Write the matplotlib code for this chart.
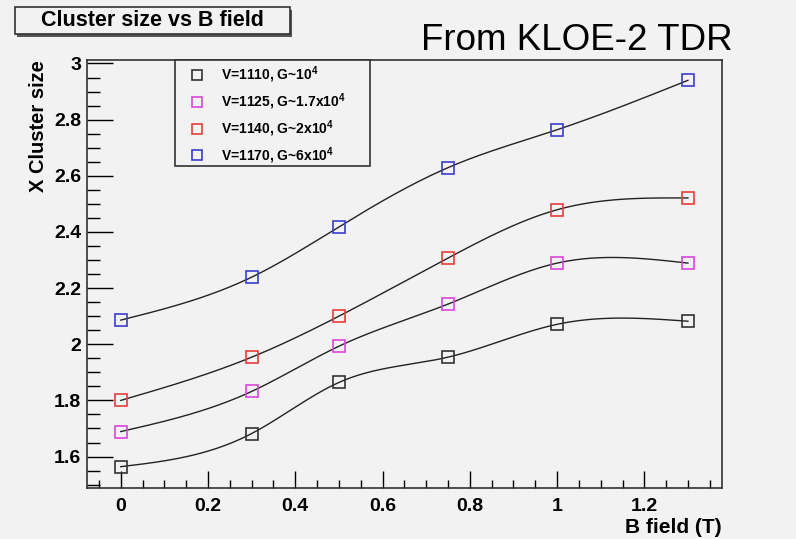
import numpy as np
import matplotlib
matplotlib.use("Agg")
import matplotlib.pyplot as plt
from matplotlib.patches import Rectangle
from matplotlib.ticker import MultipleLocator

# ---- data ----
b_field = [0.0, 0.3, 0.5, 0.75, 1.0, 1.3]
v1110 = [1.564, 1.682, 1.864, 1.954, 2.071, 2.082]
v1125 = [1.689, 1.832, 1.993, 2.143, 2.289, 2.289]
v1140 = [1.800, 1.954, 2.100, 2.307, 2.479, 2.521]
v1170 = [2.086, 2.239, 2.418, 2.629, 2.764, 2.940]
labels = [r"V=1110, G~10$^{4}$", r"V=1125, G~1.7x10$^{4}$",
          r"V=1140, G~2x10$^{4}$", r"V=1170, G~6x10$^{4}$"]
colors = ["#333333", "#dd44dd", "#e83c3c", "#3c3ccc"]


def natural_spline(x, y, n=300):
    x = np.asarray(x, float); y = np.asarray(y, float)
    m = len(x); h = np.diff(x)
    A = np.zeros((m, m)); r = np.zeros(m)
    A[0, 0] = 1; A[-1, -1] = 1
    for i in range(1, m - 1):
        A[i, i - 1] = h[i - 1]; A[i, i] = 2 * (h[i - 1] + h[i]); A[i, i + 1] = h[i]
        r[i] = 3 * ((y[i + 1] - y[i]) / h[i] - (y[i] - y[i - 1]) / h[i - 1])
    c = np.linalg.solve(A, r)
    xs = np.linspace(x[0], x[-1], n)
    idx = np.clip(np.searchsorted(x, xs) - 1, 0, m - 2)
    b = (y[1:] - y[:-1]) / h - h * (2 * c[:-1] + c[1:]) / 3
    d = (c[1:] - c[:-1]) / (3 * h)
    dx = xs - x[idx]
    ys = y[idx] + b[idx] * dx + c[idx] * dx ** 2 + d[idx] * dx ** 3
    return xs, ys


plt.rcParams['font.family'] = ['Liberation Sans', 'DejaVu Sans']
plt.rcParams['mathtext.fontset'] = 'custom'
plt.rcParams['mathtext.rm'] = 'Liberation Sans:bold'
plt.rcParams['mathtext.it'] = 'Liberation Sans:bold'
plt.rcParams['mathtext.bf'] = 'Liberation Sans:bold'

bg = "#f2f2f2"
fig = plt.figure(figsize=(7.96, 5.39), dpi=100, facecolor=bg)
ax = fig.add_axes([0.109, 0.0946, 0.798, 0.7944], facecolor=bg)

handles = []
for ys, col, lab in zip([v1110, v1125, v1140, v1170], colors, labels):
    sx, sy = natural_spline(b_field, ys)
    ax.plot(sx, sy, color="#222222", lw=1.0, zorder=2)
    h, = ax.plot(b_field, ys, ls="none", marker="s", ms=9, mfc="none",
                 mec=col, mew=1.2, zorder=3, label=lab)
    handles.append(h)

ax.set_xlim(-0.078, 1.378)
ax.set_ylim(1.488, 3.013)
ax.xaxis.set_major_locator(MultipleLocator(0.2))
ax.xaxis.set_minor_locator(MultipleLocator(0.05))
ax.yaxis.set_major_locator(MultipleLocator(0.2))
ax.yaxis.set_minor_locator(MultipleLocator(0.05))
ax.xaxis.set_major_formatter(plt.FuncFormatter(lambda v, p: f"{v:g}"))
ax.yaxis.set_major_formatter(plt.FuncFormatter(lambda v, p: f"{v:g}"))
ax.tick_params(axis='x', which='major', direction='in', length=12, width=1, pad=7,
               labelsize=14, top=False)
ax.tick_params(axis='x', which='minor', direction='in', length=6, width=1, top=False)
ax.tick_params(axis='y', which='major', direction='in', length=19, width=1, pad=4,
               labelsize=14, right=False)
ax.tick_params(axis='y', which='minor', direction='in', length=9, width=1, right=False)
for lab in ax.get_xticklabels() + ax.get_yticklabels():
    lab.set_fontweight('bold')
for s in ax.spines.values():
    s.set_color("#333333"); s.set_linewidth(1.2)

ax.set_xlabel("B field (T)", fontsize=15, fontweight='bold', loc='right', labelpad=2)
ax.set_ylabel("X Cluster size", fontsize=14.5, fontweight='bold', loc='top', labelpad=4)

# legend frame (drawn separately for ROOT-like padding)
ax.add_patch(Rectangle((0.1386, 0.752), 0.307, 0.248, transform=ax.transAxes,
                       facecolor=bg, edgecolor="#333333", lw=1.2, zorder=4,
                       clip_on=False))
leg = ax.legend(handles=handles, loc='upper left', bbox_to_anchor=(0.153, 1.0),
                frameon=False, prop={'weight': 'bold', 'size': 10},
                handlelength=1.2, handletextpad=1.1, labelspacing=0.45,
                borderpad=0.35, borderaxespad=0, markerscale=0.85)
leg.set_zorder(5)

# title box
fig.patches.append(Rectangle((17 / 796, 1 - 37 / 539), 275 / 796, 27 / 539,
                             transform=fig.transFigure, facecolor="#555555",
                             edgecolor="none", zorder=1))
fig.patches.append(Rectangle((15 / 796, 1 - 34 / 539), 275 / 796, 27 / 539,
                             transform=fig.transFigure, facecolor=bg,
                             edgecolor="#333333", lw=1.2, zorder=2))
fig.text(152 / 796, 1 - 21 / 539, "Cluster size vs B field", fontsize=15.5,
         fontweight='bold', ha='center', va='center', zorder=3)

fig.text(577 / 796, 1 - 40 / 539, "From KLOE-2 TDR", fontsize=26.5,
         ha='center', va='center')

fig.savefig("out.png", dpi=100, facecolor=bg)
